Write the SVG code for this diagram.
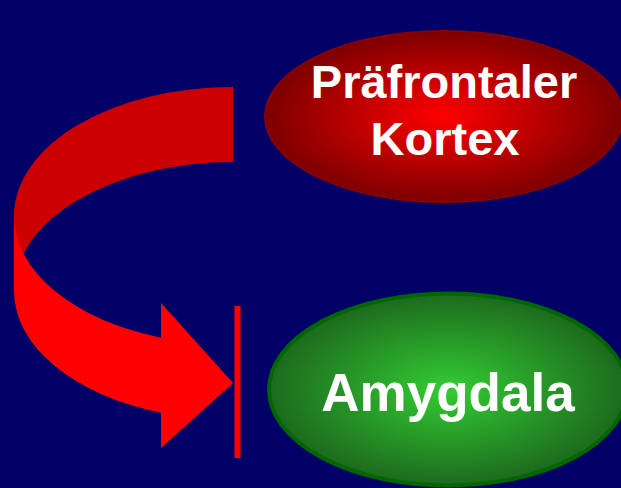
<svg xmlns="http://www.w3.org/2000/svg" width="621" height="488" viewBox="0 0 621 488">
<defs>
<radialGradient id="gRed" cx="50%" cy="50%" r="50%">
<stop offset="0" stop-color="#ff0000"/>
<stop offset="1" stop-color="#7d0000"/>
</radialGradient>
<radialGradient id="gGreen" cx="50%" cy="50%" r="50%">
<stop offset="0" stop-color="#33cc33"/>
<stop offset="1" stop-color="#1d6a1d"/>
</radialGradient>
<style>
.lbl{font-family:"Liberation Sans",Arial,sans-serif;font-weight:bold;fill:#ffffff;text-anchor:middle}
</style>
</defs>
<rect x="0" y="0" width="621" height="488" fill="#000066"/>
<g id="connectors">
<path id="arrow-back" d="M233,87 A219,129 0 0 0 14,216 L14,291 A219,129 0 0 1 233,162 Z" fill="#cc0000"/>
<path id="arrow-front" d="M14,216 A219,129 0 0 0 161,337.8 L161,303 L233,383 L161,448 L161,412.8 A219,129 0 0 1 14,291 Z" fill="#ff0000"/>
<rect id="inhibit-bar" x="234.5" y="306" width="6" height="152" fill="#ff0000"/>
</g>
<g id="node-kortex">
<ellipse cx="444" cy="116.5" rx="179" ry="85.5" fill="url(#gRed)" stroke="#8b0000" stroke-width="2"/>
<text class="lbl" x="444" y="98" font-size="47">Präfrontaler</text>
<text class="lbl" x="445" y="155" font-size="47">Kortex</text>
</g>
<g id="node-amygdala">
<ellipse cx="448" cy="389.5" rx="179" ry="96" fill="url(#gGreen)" stroke="#006600" stroke-width="4"/>
<text class="lbl" x="448" y="411" font-size="53">Amygdala</text>
</g>
</svg>
